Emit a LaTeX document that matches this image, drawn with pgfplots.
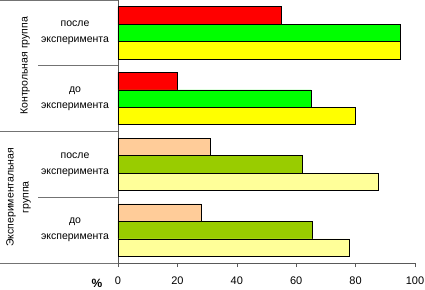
\documentclass[border=0pt]{standalone}
\usepackage{pgfplots}
\pgfplotsset{compat=1.18}
\usepackage{fontspec}
\setmainfont{Liberation Sans}
\definecolor{cRed}{HTML}{FF0000}
\definecolor{cGreen}{HTML}{00FF00}
\definecolor{cYellow}{HTML}{FFFF00}
\definecolor{cPeach}{HTML}{FFCC99}
\definecolor{cOlive}{HTML}{99CC00}
\definecolor{cLY}{HTML}{FFFF99}
\begin{document}
\begin{tikzpicture}
\begin{axis}[
  at={(0,0)}, anchor=south west,
  scale only axis, width=297pt, height=263pt,
  xmin=0, xmax=100, ymin=-0.5, ymax=3.5,
  xbar, bar width=0.265,
  axis x line*=bottom, axis y line*=left,
  axis line style={-, black!65, line width=0.6pt},
  xtick={0,20,...,100}, ytick=\empty,
  xtick align=outside, major tick length=4pt,
  tick style={black!65, line width=0.6pt},
  xticklabel style={font=\fontsize{11}{13}\selectfont, yshift=-6pt},
  /pgf/number format/assume math mode=true,
  clip=false,
]
\addplot[fill=cRed, draw=black, line width=0.6pt, bar shift=0.265] coordinates {(55,3) (20,2)};
\addplot[fill=cGreen, draw=black, line width=0.6pt, bar shift=0] coordinates {(95,3) (65,2)};
\addplot[fill=cYellow, draw=black, line width=0.6pt, bar shift=-0.265] coordinates {(95,3) (80,2)};
\addplot[fill=cPeach, draw=black, line width=0.6pt, bar shift=0.265] coordinates {(31,1) (28,0)};
\addplot[fill=cOlive, draw=black, line width=0.6pt, bar shift=0] coordinates {(62,1) (65.5,0)};
\addplot[fill=cLY, draw=black, line width=0.6pt, bar shift=-0.265] coordinates {(87.5,1) (78,0)};

\draw[black!55, line width=0.6pt] (axis cs:0,3.5) -- ++(-118pt,0pt);
\draw[black!55, line width=0.6pt] (axis cs:0,1.5) -- ++(-118pt,0pt);
\draw[black!55, line width=0.6pt] (axis cs:0,-0.5) -- ++(-118pt,0pt);
\draw[black!55, line width=0.6pt] (axis cs:0,2.5) -- ++(-80pt,0pt);
\draw[black!55, line width=0.6pt] (axis cs:0,0.5) -- ++(-80pt,0pt);

\path (axis cs:0,3) ++(-43pt,0pt) node[align=center, font=\fontsize{10.5}{16}\selectfont] {после\\эксперимента};
\path (axis cs:0,1) ++(-43pt,0pt) node[align=center, font=\fontsize{10.5}{16}\selectfont] {после\\эксперимента};
\path (axis cs:0,2) ++(-43pt,0pt) node[align=center, font=\fontsize{10.5}{16}\selectfont] {до\\эксперимента};
\path (axis cs:0,0) ++(-43pt,0pt) node[align=center, font=\fontsize{10.5}{16}\selectfont] {до\\эксперимента};
\path (axis cs:0,2.5) ++(-93pt,0pt) node[rotate=90, font=\fontsize{10.5}{15}\selectfont] {Контрольная группа};
\path (axis cs:0,0.5) ++(-99.5pt,0pt) node[rotate=90, align=center, font=\fontsize{10.5}{15}\selectfont] {Экспериментальная\\группа};
\path (axis cs:0,-0.5) ++(-21pt,-20pt) node[font=\bfseries\fontsize{12}{14}\selectfont] {\%};
\end{axis}
\pgfresetboundingbox
\path[use as bounding box] (-118pt,-26pt) rectangle (307pt,263pt);
\end{tikzpicture}
\end{document}
